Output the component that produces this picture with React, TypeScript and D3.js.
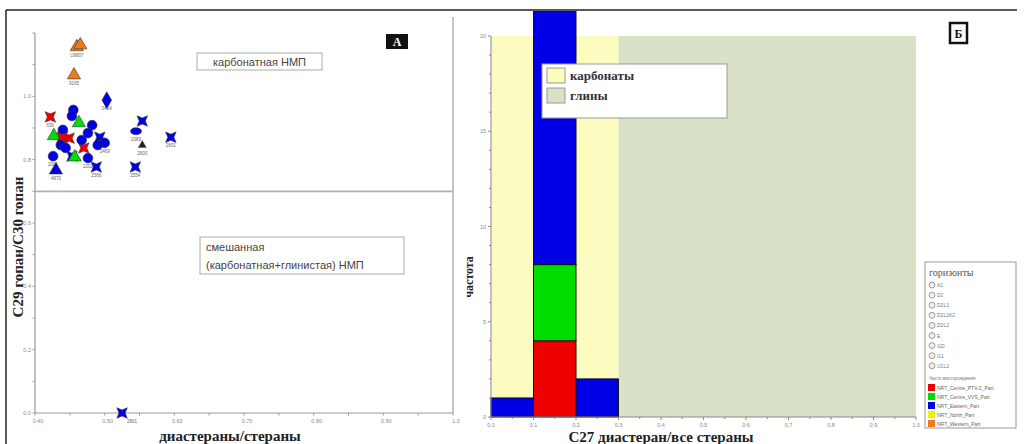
import React from "react";
import * as d3 from "d3";

const W = 1034;
const H = 444;

// ---- panel A: scatter (диастераны/стераны vs C29/C30 гопан)
const ptX = [0.46, 0.465, 0.456, 0.503, 0.422, 0.455, 0.453, 0.463, 0.482, 0.44, 0.554, 0.545, 0.595, 0.554, 0.544, 0.427, 0.439, 0.449, 0.476, 0.493, 0.5, 0.437, 0.47, 0.426, 0.453, 0.457, 0.476, 0.488, 0.43, 0.444, 0.467, 0.49, 0.525];
const ptY = [1.156, 1.162, 1.067, 0.988, 0.935, 0.957, 0.938, 0.916, 0.909, 0.894, 0.922, 0.89, 0.871, 0.846, 0.777, 0.875, 0.871, 0.868, 0.884, 0.871, 0.853, 0.846, 0.837, 0.811, 0.811, 0.808, 0.805, 0.777, 0.767, 0.837, 0.862, 0.846, 0.0];
// index into partColors: 0 red, 1 green, 2 blue, 4 orange, 5 black
const ptPart = [4, 4, 4, 2, 0, 2, 2, 1, 2, 2, 2, 2, 2, 5, 2, 1, 0, 0, 2, 2, 2, 2, 0, 2, 2, 1, 2, 2, 2, 2, 2, 2, 2];
const ptShape = ["tri", "tri", "tri", "dia", "xsq", "cir", "cir", "tri", "cir", "cir", "xsq", "oval", "xsq", "tri", "xsq", "tri", "xsq", "xsq", "cir", "xsq", "cir", "cir", "xsq", "cir", "xsq", "tri", "cir", "xsq", "tri", "cir", "cir", "cir", "xsq"];
const ptLabel = ["U9807", "", "9105", "0424", "636", "", "", "", "", "", "", "2083", "2601", "2600", "2554", "", "", "", "", "", "2469", "", "", "2001", "", "", "2202", "2566", "4970", "", "", "", "2801"];

const xTicksA = [0.4, 0.5, 0.6, 0.7, 0.8, 0.9, 1.0];
const yTicksA = [0.0, 0.2, 0.4, 0.6, 0.8, 1.0];
const boundaryA = 0.7;

// ---- panel Б: histogram of C27 диастеран/все стераны
const binStart = [0.0, 0.1, 0.2];
const binEnd = [0.1, 0.2, 0.3];
const countRed = [0, 4, 0];
const countGreen = [0, 4, 0];
const countBlue = [1, 16, 2];

const zoneStart = [0.0, 0.3];
const zoneEnd = [0.3, 1.0];
const zoneTop = 20;
const zoneNames = ["карбонаты", "глины"];
const zoneColors = ["#fdfcc0", "#d9e2c6"];

const xTicksB = [0, 0.1, 0.2, 0.3, 0.4, 0.5, 0.6, 0.7, 0.8, 0.9, 1.0];
const yTicksB = [0, 5, 10, 15, 20];

const horizonNames = ["A1", "D2", "D2L1", "D2L1K2", "D2L2", "E", "GD", "G1", "U1L2"];
const partNames = ["NRT_Centre_PTV-2_Part", "NRT_Centre_VVS_Part", "NRT_Eastern_Part", "NRT_North_Part", "NRT_Western_Part"];
const partColors = ["#ee0000", "#00dd00", "#0000e6", "#eeee00", "#ee7a1a", "#222222"];

const xsqSymbol = {
  draw(ctx: any, size: number) {
    const r = Math.sqrt(size) / 2;
    const k = r * 0.58;
    ctx.moveTo(-r, -r);
    ctx.lineTo(0, -k);
    ctx.lineTo(r, -r);
    ctx.lineTo(k, 0);
    ctx.lineTo(r, r);
    ctx.lineTo(0, k);
    ctx.lineTo(-r, r);
    ctx.lineTo(-k, 0);
    ctx.closePath();
  },
};

function markerPath(shape: string) {
  if (shape === "tri") return d3.symbol(d3.symbolTriangle, 75)();
  if (shape === "dia") return d3.symbol(d3.symbolDiamond, 80)();
  if (shape === "xsq") return d3.symbol(xsqSymbol as any, 110)();
  return d3.symbol(d3.symbolCircle, 75)();
}

const serif = "'Liberation Serif', 'Times New Roman', serif";
const sans = "'Liberation Sans', Arial, sans-serif";

function PanelA() {
  const x = d3.scaleLinear().domain([0.4, 1.0]).range([35, 453]);
  const y = d3.scaleLinear().domain([0, 1.2]).range([413, 33]);
  const minorX = d3.range(0.4, 1.0001, 0.05);
  const minorY = d3.range(0, 1.2001, 0.1);
  return (
    <g>
      {/* axes */}
      <line x1={x(0.4)} x2={x(1.0)} y1={y(0)} y2={y(0)} stroke="#9a9a9a" strokeWidth={1.2} />
      <line x1={x(0.4)} x2={x(0.4)} y1={y(0)} y2={y(1.2)} stroke="#9a9a9a" strokeWidth={1.2} />
      <line x1={x(1.0)} x2={x(1.0)} y1={y(0)} y2={17} stroke="#b0b0b0" strokeWidth={1.5} />
      <line x1={x(0.4)} x2={x(1.0)} y1={y(boundaryA)} y2={y(boundaryA)} stroke="#b0b0b0" strokeWidth={1.8} />
      {minorX.map((v, i) => (
        <line key={"mx" + i} x1={x(v)} x2={x(v)} y1={y(0)} y2={y(0) + 2.5} stroke="#999" />
      ))}
      {minorY.map((v, i) => (
        <line key={"my" + i} x1={x(0.4) - 2.5} x2={x(0.4)} y1={y(v)} y2={y(v)} stroke="#999" />
      ))}
      {xTicksA.map((v) => (
        <text key={"xt" + v} x={x(v) + 3} y={423} fontSize={5.5} fill="#888" textAnchor="middle" fontFamily={sans}>
          {v === 1 ? "1.0" : d3.format(".2f")(v)}
        </text>
      ))}
      {yTicksA.map((v) => (
        <text key={"yt" + v} x={31} y={y(v) + 2} fontSize={5.5} fill="#888" textAnchor="end" fontFamily={sans}>
          {d3.format(".1f")(v)}
        </text>
      ))}
      {/* point labels */}
      {ptX.map((v, i) =>
        ptLabel[i] ? (
          <text key={"pl" + i} x={x(v) + (i === 32 ? 10 : 0)} y={y(ptY[i]) + 10} fontSize={4.5} fill="#666" textAnchor="middle" fontFamily={sans}>
            {ptLabel[i]}
          </text>
        ) : null
      )}
      {/* points */}
      {ptX.map((v, i) =>
        ptShape[i] === "oval" ? (
          <ellipse key={"p" + i} cx={x(v)} cy={y(ptY[i])} rx={5.5} ry={3.5} fill={partColors[ptPart[i]]} stroke="#333" strokeWidth={0.6} />
        ) : (
          <path
            key={"p" + i}
            d={markerPath(ptShape[i]) as string}
            transform={`translate(${x(v)},${y(ptY[i])})${ptPart[i] === 5 ? " scale(0.6)" : ""}`}
            fill={partColors[ptPart[i]]}
            stroke="#333"
            strokeWidth={0.6}
          />
        )
      )}
      {/* zone labels */}
      <rect x={197} y={53} width={125} height={17} fill="#fff" stroke="#aaa" strokeWidth={1} />
      <text x={259.5} y={65.5} fontSize={11} fill="#444" textAnchor="middle" fontFamily={sans}>
        карбонатная НМП
      </text>
      <rect x={200} y={237} width={204} height={37} fill="#fff" stroke="#aaa" strokeWidth={1} />
      <text x={206} y={251} fontSize={11} fill="#444" fontFamily={sans}>
        смешанная
      </text>
      <text x={206} y={269} fontSize={11} fill="#444" fontFamily={sans}>
        (карбонатная+глинистая) НМП
      </text>
      {/* panel letter */}
      <rect x={386} y={34} width={22} height={15} fill="#111" />
      <text x={397} y={46} fontSize={12} fill="#fff" fontWeight="bold" textAnchor="middle" fontFamily={serif}>
        А
      </text>
      {/* axis titles */}
      <text x={230} y={441} fontSize={15} fontWeight="bold" textAnchor="middle" fill="#222" fontFamily={serif}>
        диастераны/стераны
      </text>
      <text transform="translate(23,247) rotate(-90)" fontSize={15} fontWeight="bold" textAnchor="middle" fill="#222" fontFamily={serif}>
        С29 гопан/С30 гопан
      </text>
    </g>
  );
}

function PanelB() {
  const x = d3.scaleLinear().domain([0, 1]).range([491, 916]);
  const y = d3.scaleLinear().domain([0, 20]).range([417, 36]);
  const table = binStart.map((b, i) => ({ i, red: countRed[i], green: countGreen[i], blue: countBlue[i] }));
  const series = d3.stack<any>().keys(["red", "green", "blue"])(table);
  const stackColors = [partColors[0], partColors[1], partColors[2]];
  const minorX = d3.range(0, 1.0001, 0.05);
  const minorY = d3.range(0, 20.001, 1);
  return (
    <g>
      <defs>
        <clipPath id="clipB">
          <rect x={470} y={11} width={560} height={420} />
        </clipPath>
      </defs>
      {zoneStart.map((s, i) => (
        <rect key={"z" + i} x={x(s)} y={y(zoneTop)} width={x(zoneEnd[i]) - x(s)} height={y(0) - y(zoneTop)} fill={zoneColors[i]} />
      ))}
      <g clipPath="url(#clipB)">
        {series.map((ser, k) =>
          ser.map((d, j) =>
            d[1] > d[0] ? (
              <rect
                key={`b${k}-${j}`}
                x={x(binStart[j])}
                y={y(d[1])}
                width={x(binEnd[j]) - x(binStart[j])}
                height={y(d[0]) - y(d[1])}
                fill={stackColors[k]}
                stroke="#111"
                strokeWidth={1}
              />
            ) : null
          )
        )}
      </g>
      {/* axes */}
      <line x1={x(0)} x2={x(1)} y1={y(0)} y2={y(0)} stroke="#888" strokeWidth={1} />
      <line x1={x(0)} x2={x(0)} y1={y(0)} y2={y(20)} stroke="#888" strokeWidth={1} />
      {minorX.map((v, i) => (
        <line key={"mx" + i} x1={x(v)} x2={x(v)} y1={y(0)} y2={y(0) + (i % 2 === 0 ? 3 : 2)} stroke="#888" />
      ))}
      {minorY.map((v, i) => (
        <line key={"my" + i} x1={x(0) - (i % 5 === 0 ? 3 : 2)} x2={x(0)} y1={y(v)} y2={y(v)} stroke="#888" />
      ))}
      {xTicksB.map((v) => (
        <text key={"xt" + v} x={x(v)} y={427} fontSize={5.5} fill="#888" textAnchor="middle" fontFamily={sans}>
          {d3.format(".1f")(v)}
        </text>
      ))}
      {yTicksB.map((v) => (
        <text key={"yt" + v} x={486} y={y(v) + 2} fontSize={5.5} fill="#888" textAnchor="end" fontFamily={sans}>
          {v}
        </text>
      ))}
      {/* zone legend */}
      <rect x={542} y={64} width={185} height={54} fill="#fff" stroke="#999" strokeWidth={1} />
      {zoneNames.map((n, i) => (
        <g key={"zl" + i}>
          <rect x={547} y={68 + i * 20} width={18} height={15} fill={zoneColors[i]} stroke="#999" strokeWidth={1} />
          <text x={570} y={80 + i * 20} fontSize={13} fontWeight="bold" fill="#333" fontFamily={serif}>
            {n}
          </text>
        </g>
      ))}
      {/* panel letter */}
      <rect x={950} y={23} width={17} height={20} fill="#fff" stroke="#111" strokeWidth={2.5} />
      <text x={958.5} y={38} fontSize={12} fontWeight="bold" textAnchor="middle" fill="#111" fontFamily={serif}>
        Б
      </text>
      {/* horizon / part legend */}
      <rect x={925} y={262} width={91} height={166} fill="#fff" stroke="#999" strokeWidth={1} />
      <text x={929} y={276} fontSize={10} fill="#555" fontFamily={serif}>
        горизонты
      </text>
      {horizonNames.map((n, i) => (
        <g key={"hz" + i}>
          <circle cx={932} cy={285 + i * 10.1} r={3} fill="#eee" stroke="#888" strokeWidth={0.8} />
          <text x={937} y={287 + i * 10.1} fontSize={5} fill="#777" fontFamily={sans}>
            {n}
          </text>
        </g>
      ))}
      <text x={929} y={380} fontSize={4.5} fill="#777" fontFamily={sans}>
        Части месторождения
      </text>
      {partNames.map((n, i) => (
        <g key={"pt" + i}>
          <rect x={928} y={384 + i * 9} width={7} height={7} fill={partColors[i]} />
          <text x={937} y={390 + i * 9} fontSize={5} fill="#666" fontFamily={sans}>
            {n}
          </text>
        </g>
      ))}
      {/* axis titles */}
      <text x={661} y={442} fontSize={15} fontWeight="bold" textAnchor="middle" fill="#222" fontFamily={serif}>
        С27 диастеран/все стераны
      </text>
      <text transform="translate(473,277) rotate(-90)" fontSize={12} fontWeight="bold" textAnchor="middle" fill="#222" fontFamily={serif}>
        частота
      </text>
    </g>
  );
}

export default function App() {
  return (
    <svg width={W} height={H} style={{ position: "absolute", left: 0, top: 0, background: "#fff" }}>
      <rect x={0} y={0} width={W} height={H} fill="#fff" />
      <PanelA />
      <PanelB />
      {/* outer frame */}
      <line x1={6} x2={1017} y1={10} y2={10} stroke="#222" strokeWidth={1.5} />
      <line x1={6} x2={6} y1={10} y2={H} stroke="#222" strokeWidth={1.5} />
    </svg>
  );
}
